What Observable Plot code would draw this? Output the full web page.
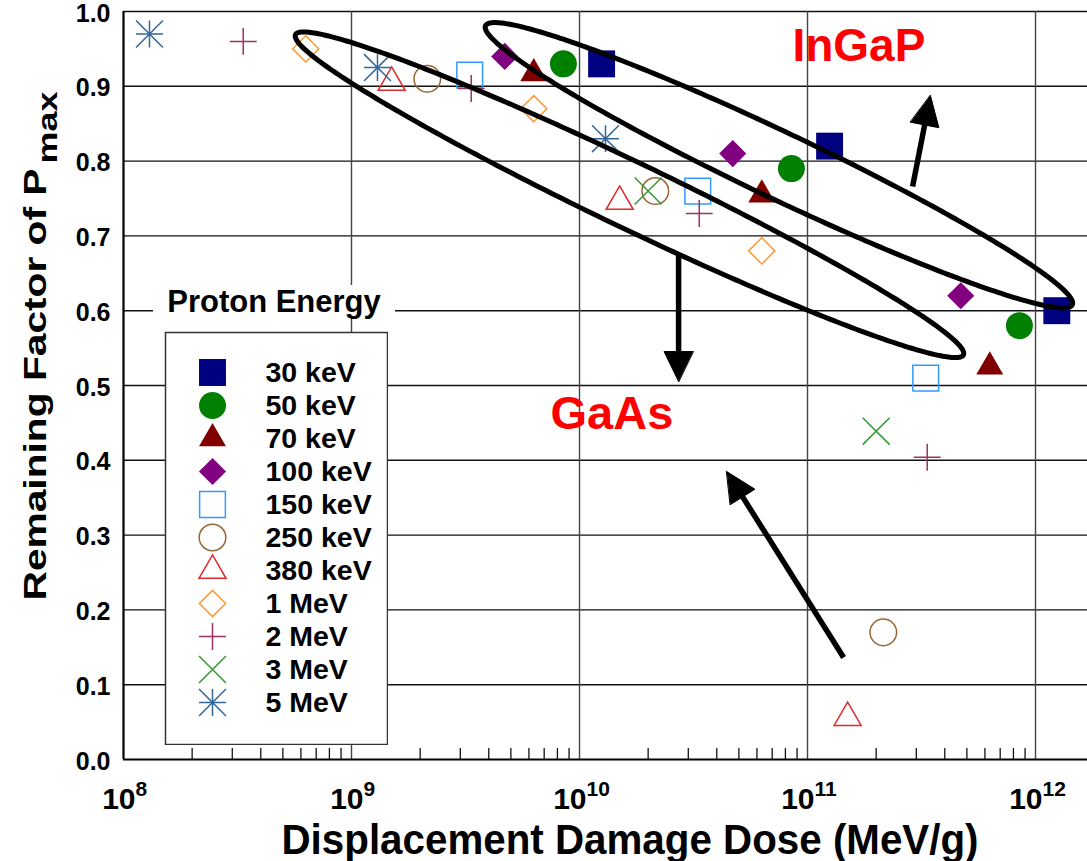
<!DOCTYPE html>
<html>
<head>
<meta charset="utf-8">
<script src="https://cdn.jsdelivr.net/npm/d3@7"></script>
<script src="https://cdn.jsdelivr.net/npm/@observablehq/plot@0.6"></script>
<style>
html,body{margin:0;padding:0;background:#fff;}
#wrap{position:relative;width:1087px;height:861px;overflow:hidden;font-family:"Liberation Sans",Arial,Helvetica,sans-serif;}
#wrap svg{display:block;}
#legend-box{position:absolute;left:164px;top:331px;}
#legend-title{position:absolute;left:153px;top:285px;width:242px;height:34px;line-height:34px;text-align:center;background:#fff;font-weight:bold;font-size:31px;color:#000;}
</style>
</head>
<body>
<div id="wrap"></div>
<script>
// ---------------- DATA ----------------
const energies = ["30 keV","50 keV","70 keV","100 keV","150 keV","250 keV","380 keV","1 MeV","2 MeV","3 MeV","5 MeV"];
// displacement damage dose (MeV/g) per energy
const doseByEnergy = [
  [1.25e10, 1.25e11, 1.24e12],
  [8.5e9, 8.5e10, 8.5e11],
  [6.3e9, 6.3e10, 6.3e11],
  [4.7e9, 4.7e10, 4.7e11],
  [3.3e9, 3.3e10, 3.3e11],
  [2.15e9, 2.15e10, 2.15e11],
  [1.5e9, 1.5e10, 1.5e11],
  [6.3e8, 6.3e9, 6.3e10],
  [3.35e8, 3.35e9, 3.35e10, 3.35e11],
  [2.0e10, 2.0e11],
  [1.3e8, 1.3e9, 1.3e10]
];
// remaining factor of Pmax per energy
const factorByEnergy = [
  [0.93, 0.82, 0.60],
  [0.93, 0.79, 0.58],
  [0.917, 0.755, 0.525],
  [0.94, 0.81, 0.62],
  [0.915, 0.76, 0.51],
  [0.91, 0.76, 0.17],
  [0.905, 0.746, 0.056],
  [0.95, 0.87, 0.68],
  [0.96, 0.897, 0.73, 0.404],
  [0.76, 0.439],
  [0.97, 0.925, 0.83]
];
const yTicks = [0.0, 0.1, 0.2, 0.3, 0.4, 0.5, 0.6, 0.7, 0.8, 0.9, 1.0];
const xExponents = [8, 9, 10, 11, 12];
const minorMultipliers = [2, 3, 4, 5, 6, 7, 8, 9];

// annotations (data units: dose, factor)
const loopNames = ["GaAs", "InGaP"];
const loopStart = [[5.68e8, 0.969], [3.87e9, 0.981]];
const loopEnd = [[4.83e11, 0.541], [1.45e12, 0.608]];
const arrowNames = ["InGaP up", "GaAs down", "GaAs up"];
const arrowStart = [[2.89e11, 0.766], [2.72e10, 0.6765], [1.44e11, 0.1364]];
const arrowEnd = [[3.46e11, 0.8877], [2.72e10, 0.5053], [4.42e10, 0.385]];
const regionLabels = ["InGaP", "GaAs"];
const regionLabelDose = [8.59e10, 7.46e9];
const regionLabelFactor = [0.954, 0.4626];
const xTitle = "Displacement Damage Dose (MeV/g)";
const yTitle = "Remaining Factor of P";
const yTitleSub = "max";
const legendTitle = "Proton Energy";

// ---------------- STYLES ----------------
const W = 1087, H = 861;
const M = {left: 123, right: 0, top: 11, bottom: 102};
const xDomain = [1e8, Math.pow(10, 12.228)];
const FONT = '"Liberation Sans", Arial, Helvetica, sans-serif';
const markerStyle = [
  [{symbol: "square", r: 15.2, fill: "#000080"}],
  [{symbol: "circle", r: 13.5, fill: "#008000"}],
  [{symbol: "triangle", r: 10.0, fill: "#800000"}],
  [{symbol: "diamond2", r: 12.2, fill: "#800080"}],
  [{symbol: "square2", r: 16.4, stroke: "#3399ff"}],
  [{symbol: "circle", r: 13.3, stroke: "#996633"}],
  [{symbol: "triangle2", r: 12.9, stroke: "#dd2a2a"}],
  [{symbol: "diamond2", r: 11.8, stroke: "#ff9933"}],
  [{symbol: "plus", r: 8.7, stroke: "#993366"}],
  [{symbol: "times", r: 12.3, stroke: "#339933"}],
  [{symbol: "plus", r: 8.7, stroke: "#336699"}, {symbol: "times", r: 12.3, stroke: "#336699"}]
];

// ---------------- BUILD ----------------
const points = energies.flatMap((e, i) => doseByEnergy[i].map((d, j) => ({energy: e, dose: d, factor: factorByEnergy[i][j]})));

function dotMarks(data, extra) {
  return energies.flatMap((e, i) => markerStyle[i].map(s => Plot.dot(data.filter(p => p.energy === e), {
    ...extra,
    symbol: s.symbol, r: s.r,
    fill: s.fill || "none", stroke: s.stroke || "none",
    strokeWidth: s.stroke ? 1.5 : 0
  })));
}

// pixel helpers identical to Plot's scales (used for annotation geometry only)
const xPix = d3.scaleLog().domain(xDomain).range([M.left, W - M.right]);
const yPix = d3.scaleLinear().domain([0, 1]).range([H - M.bottom, M.top]);
const inv = (id, px, py) => ({id, dose: xPix.invert(px), factor: yPix.invert(py)});

function loopPoints(id, p1, p2, halfWidth, n) {
  const x1 = xPix(p1[0]), y1 = yPix(p1[1]), x2 = xPix(p2[0]), y2 = yPix(p2[1]);
  const cx = (x1 + x2) / 2, cy = (y1 + y2) / 2, a = Math.hypot(x2 - x1, y2 - y1) / 2, th = Math.atan2(y2 - y1, x2 - x1);
  return d3.range(n).map(k => {
    const t = 2 * Math.PI * k / n, u = a * Math.cos(t), v = halfWidth * Math.sin(t);
    return inv(id, cx + u * Math.cos(th) - v * Math.sin(th), cy + u * Math.sin(th) + v * Math.cos(th));
  });
}
const loops = loopNames.flatMap((nm, i) => loopPoints(nm, loopStart[i], loopEnd[i], 33, 360));

const shafts = [], heads = [];
arrowNames.forEach((nm, i) => {
  const sx = xPix(arrowStart[i][0]), sy = yPix(arrowStart[i][1]);
  const tx = xPix(arrowEnd[i][0]), ty = yPix(arrowEnd[i][1]);
  const L = Math.hypot(tx - sx, ty - sy), ux = (tx - sx) / L, uy = (ty - sy) / L;
  const hl = 30, hw = 14.5;
  const bx = tx - ux * hl, by = ty - uy * hl;
  shafts.push(inv(nm, sx, sy), inv(nm, bx + ux * 3, by + uy * 3));
  heads.push(inv(nm, tx, ty), inv(nm, bx - uy * hw, by + ux * hw), inv(nm, bx + uy * hw, by - ux * hw));
});

const minorTicks = xExponents.flatMap(n => minorMultipliers.map(m => m * Math.pow(10, n))).filter(v => v < xDomain[1]);
const labels = regionLabels.map((t, i) => ({text: t, dose: regionLabelDose[i], factor: regionLabelFactor[i]}));

const marks = [
  Plot.ruleY(yTicks.filter(v => v > 0), {stroke: "#111", strokeWidth: 1.4}),
  Plot.ruleX(xExponents.filter(n => n > 8).map(n => Math.pow(10, n)), {stroke: "#444", strokeWidth: 1.4}),
  Plot.ruleX(minorTicks, {stroke: "#111", strokeWidth: 1.3, insetTop: 737}),
  Plot.ruleX([xDomain[0]], {stroke: "#000", strokeWidth: 2.2}),
  Plot.ruleY([0], {stroke: "#000", strokeWidth: 2.2}),
  ...dotMarks(points, {x: "dose", y: "factor"}),
  Plot.line(loops, {x: "dose", y: "factor", z: "id", curve: "linear-closed", stroke: "#000", strokeWidth: 5}),
  Plot.line(shafts, {x: "dose", y: "factor", z: "id", stroke: "#000", strokeWidth: 5.5, strokeLinecap: "butt"}),
  Plot.line(heads, {x: "dose", y: "factor", z: "id", curve: "linear-closed", fill: "#000", stroke: "#000", strokeWidth: 1}),
  Plot.text(labels.slice(0, 1), {x: "dose", y: "factor", text: "text", fill: "#ff0000", fontSize: 46, fontWeight: "bold", textAnchor: "start"}),
  Plot.text(labels.slice(1), {x: "dose", y: "factor", text: "text", fill: "#ff0000", fontSize: 47, fontWeight: "bold", textAnchor: "start"}),
  // y tick labels
  Plot.text(yTicks, {y: d => d, frameAnchor: "left", text: d => d.toFixed(1), textAnchor: "end", dx: -13, dy: 2, fontSize: 25, fontWeight: "bold"}),
  // x tick labels: "10" + superscript exponent
  Plot.text(xExponents.filter(d => d < 10), {x: d => Math.pow(10, d), frameAnchor: "bottom", text: () => "10", textAnchor: "end", lineAnchor: "bottom", dx: 12, dy: 49, fontSize: 30, fontWeight: "bold"}),
  Plot.text(xExponents.filter(d => d < 10), {x: d => Math.pow(10, d), frameAnchor: "bottom", text: d => String(d), textAnchor: "start", lineAnchor: "bottom", dx: 12, dy: 36, fontSize: 21, fontWeight: "bold"}),
  Plot.text(xExponents.filter(d => d >= 10), {x: d => Math.pow(10, d), frameAnchor: "bottom", text: () => "10", textAnchor: "end", lineAnchor: "bottom", dx: 7, dy: 49, fontSize: 30, fontWeight: "bold"}),
  Plot.text(xExponents.filter(d => d >= 10), {x: d => Math.pow(10, d), frameAnchor: "bottom", text: d => String(d), textAnchor: "start", lineAnchor: "bottom", dx: 7, dy: 36, fontSize: 21, fontWeight: "bold"}),
  // axis titles
  Plot.text([xTitle], {frameAnchor: "bottom-left", text: d => d, textAnchor: "start", lineAnchor: "bottom", dx: 158, dy: 94, fontSize: 42, fontWeight: "bold"}),
  Plot.text([yTitle], {frameAnchor: "left", text: d => d, rotate: -90, textAnchor: "start", lineAnchor: "bottom", dx: -78, dy: 215, fontSize: 32, fontWeight: "bold"}),
  Plot.text([yTitleSub], {frameAnchor: "left", text: d => d, rotate: -90, textAnchor: "start", lineAnchor: "bottom", dx: -67, dy: -222, fontSize: 28, fontWeight: "bold"})
];

const svg = Plot.plot({
  width: W, height: H,
  marginLeft: M.left, marginRight: M.right, marginTop: M.top, marginBottom: M.bottom,
  x: {type: "log", domain: xDomain, axis: null},
  y: {domain: [0, 1], axis: null},
  style: {fontFamily: FONT, fontWeight: "bold", background: "white", color: "black"},
  marks
});
const wrap = document.getElementById("wrap");
wrap.appendChild(svg);
// condensed/stretched lettering like the reference
const stretch = {[xTitle]: 697, [yTitle]: 432, [yTitleSub]: 72};
d3.select(svg).selectAll("text").each(function () {
  const t = this.textContent;
  if (stretch[t]) d3.select(this).attr("textLength", stretch[t]).attr("lengthAdjust", "spacingAndGlyphs");
});

// legend drawn with Plot from the same categories and marker styles
const legendItems = energies.map(e => ({energy: e}));
const legend = Plot.plot({
  width: 224, height: 414, margin: 1,
  y: {type: "point", domain: energies, range: [21, 390], axis: null},
  style: {fontFamily: FONT, fontWeight: "bold", background: "transparent", color: "black"},
  marks: [
    Plot.frame({fill: "white", stroke: "#333", strokeWidth: 1.5}),
    ...dotMarks(legendItems, {y: "energy", frameAnchor: "left", dx: 47}),
    Plot.text(energies, {y: d => d, frameAnchor: "left", dx: 100, text: d => d, textAnchor: "start", fontSize: 28.5, fontWeight: "bold"})
  ]
});
legend.id = "legend-box";
wrap.appendChild(legend);
const title = document.createElement("div");
title.id = "legend-title";
title.textContent = legendTitle;
wrap.appendChild(title);
</script>
</body>
</html>
